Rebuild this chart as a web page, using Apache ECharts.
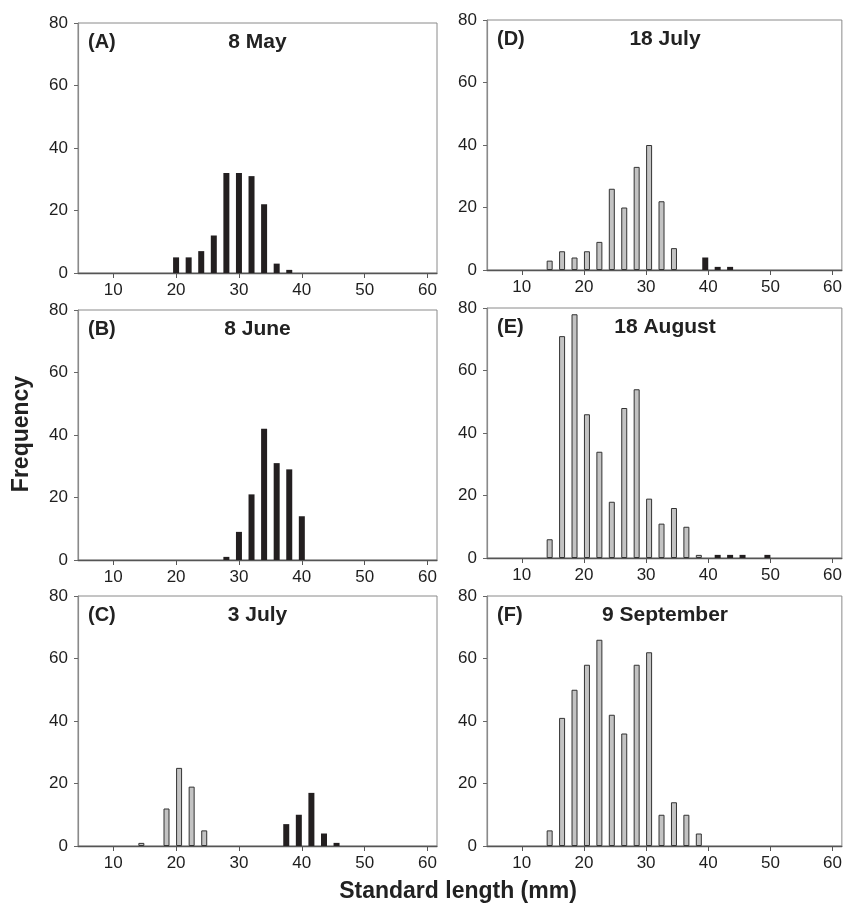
<!DOCTYPE html>
<html>
<head>
<meta charset="utf-8">
<script src="https://cdn.jsdelivr.net/npm/echarts@6/dist/echarts.min.js"></script>
<style>
html,body{margin:0;padding:0;background:#fff;}
#chart{width:845px;height:905px;}
</style>
</head>
<body>
<div id="chart"></div>
<script>
// ---- data ----
const panelLetters = ['(A)', '(B)', '(C)', '(D)', '(E)', '(F)'];
const panelTitles = ['8 May', '8 June', '3 July', '18 July', '18 August', '9 September'];
const xTickLabels = [10, 20, 30, 40, 50, 60];
const yMax = 80, yInterval = 20;
const xMin = 4.4, xMax = 61.5;

const aBlackBins = [20, 22, 24, 26, 28, 30, 32, 34, 36, 38];
const aBlackCounts = [5, 5, 7, 12, 32, 32, 31, 22, 3, 1];
const aGreyBins = [];
const aGreyCounts = [];

const bBlackBins = [28, 30, 32, 34, 36, 38, 40];
const bBlackCounts = [1, 9, 21, 42, 31, 29, 14];
const bGreyBins = [];
const bGreyCounts = [];

const cBlackBins = [38, 40, 42, 44, 46];
const cBlackCounts = [7, 10, 17, 4, 1];
const cGreyBins = [14, 18, 20, 22, 24];
const cGreyCounts = [1, 12, 25, 19, 5];

const dBlackBins = [40, 42, 44];
const dBlackCounts = [4, 1, 1];
const dGreyBins = [14, 16, 18, 20, 22, 24, 26, 28, 30, 32, 34];
const dGreyCounts = [3, 6, 4, 6, 9, 26, 20, 33, 40, 22, 7];

const eBlackBins = [42, 44, 46, 50];
const eBlackCounts = [1, 1, 1, 1];
const eGreyBins = [14, 16, 18, 20, 22, 24, 26, 28, 30, 32, 34, 36, 38];
const eGreyCounts = [6, 71, 78, 46, 34, 18, 48, 54, 19, 11, 16, 10, 1];

const fBlackBins = [];
const fBlackCounts = [];
const fGreyBins = [14, 16, 18, 20, 22, 24, 26, 28, 30, 32, 34, 36, 38];
const fGreyCounts = [5, 41, 50, 58, 66, 42, 36, 58, 62, 10, 14, 10, 4];

// which panels carry two groups (grey + black side by side)
const twoGroups = [false, false, true, true, true, true];

const panels = [
  {black: [aBlackBins, aBlackCounts], grey: [aGreyBins, aGreyCounts]},
  {black: [bBlackBins, bBlackCounts], grey: [bGreyBins, bGreyCounts]},
  {black: [cBlackBins, cBlackCounts], grey: [cGreyBins, cGreyCounts]},
  {black: [dBlackBins, dBlackCounts], grey: [dGreyBins, dGreyCounts]},
  {black: [eBlackBins, eBlackCounts], grey: [eGreyBins, eGreyCounts]},
  {black: [fBlackBins, fBlackCounts], grey: [fGreyBins, fGreyCounts]}
];

// ---- layout ----
const FONT = "'Liberation Sans', Arial, Helvetica, sans-serif";
const gridBoxes = [
  {left: 78, top: 23, width: 359},
  {left: 78, top: 310, width: 359},
  {left: 78, top: 596, width: 359},
  {left: 487, top: 20, width: 356},
  {left: 487, top: 308, width: 356},
  {left: 487, top: 596, width: 356}
];
const GH = 250;

const zip = (bins, vals) => bins.map((b, i) => [b, vals[i]]);

const grids = [], xAxes = [], yAxes = [], series = [], graphics = [];
gridBoxes.forEach((g, i) => {
  grids.push({left: g.left, top: g.top, width: g.width, height: GH,
    show: true, borderColor: '#8a8a8a', borderWidth: 1, backgroundColor: 'transparent'});
  xAxes.push({
    type: 'value', gridIndex: i, min: xMin, max: xMax,
    axisLine: {show: true, onZero: false, lineStyle: {color: '#555', width: 1.3}},
    axisTick: {show: true, length: 5, customValues: xTickLabels, lineStyle: {color: '#555'}},
    axisLabel: {show: true, customValues: xTickLabels, margin: 9, color: '#1e1e1e', fontSize: 17, fontFamily: FONT},
    splitLine: {show: false}
  });
  yAxes.push({
    type: 'value', gridIndex: i, min: 0, max: yMax, interval: yInterval,
    axisLine: {show: true, lineStyle: {color: '#8a8a8a', width: 1.2}},
    axisTick: {show: true, length: 4, lineStyle: {color: '#666'}},
    axisLabel: {margin: 10, color: '#1e1e1e', fontSize: 17, fontFamily: FONT},
    splitLine: {show: false}
  });
  const p = panels[i];
  series.push({
    type: 'bar', xAxisIndex: i, yAxisIndex: i, barWidth: 6, barGap: '0%',
    data: zip(p.black[0], p.black[1]),
    itemStyle: {color: '#231f20'}, silent: true, animation: false
  });
  if (twoGroups[i]) {
    series.push({
      type: 'bar', xAxisIndex: i, yAxisIndex: i, barWidth: 6, barGap: '0%',
      data: zip(p.grey[0], p.grey[1]),
      itemStyle: {color: '#c3c3c3', borderColor: '#333', borderWidth: 1}, silent: true, animation: false
    });
  }
  graphics.push({
    type: 'text', x: g.left + 10, y: g.top + 19,
    style: {text: panelLetters[i], fill: '#222', font: 'bold 20px ' + FONT,
      textAlign: 'left', textVerticalAlign: 'middle', align: 'left', verticalAlign: 'middle'}
  });
  graphics.push({
    type: 'text', x: g.left + g.width / 2, y: g.top + 19,
    style: {text: panelTitles[i], fill: '#222', font: 'bold 21px ' + FONT,
      textAlign: 'center', textVerticalAlign: 'middle', align: 'center', verticalAlign: 'middle'}
  });
});

graphics.push({
  type: 'text', x: 22, y: 434, rotation: Math.PI / 2,
  style: {text: 'Frequency', fill: '#222', font: 'bold 23px ' + FONT,
    textAlign: 'center', textVerticalAlign: 'middle', align: 'center', verticalAlign: 'middle'}
});
graphics.push({
  type: 'text', x: 458, y: 892,
  style: {text: 'Standard length (mm)', fill: '#222', font: 'bold 23px ' + FONT,
    textAlign: 'center', textVerticalAlign: 'middle', align: 'center', verticalAlign: 'middle'}
});

const chart = echarts.init(document.getElementById('chart'), null, {renderer: 'canvas'});
chart.setOption({
  animation: false,
  backgroundColor: '#fff',
  grid: grids,
  xAxis: xAxes,
  yAxis: yAxes,
  series: series,
  graphic: graphics
});
</script>
</body>
</html>
